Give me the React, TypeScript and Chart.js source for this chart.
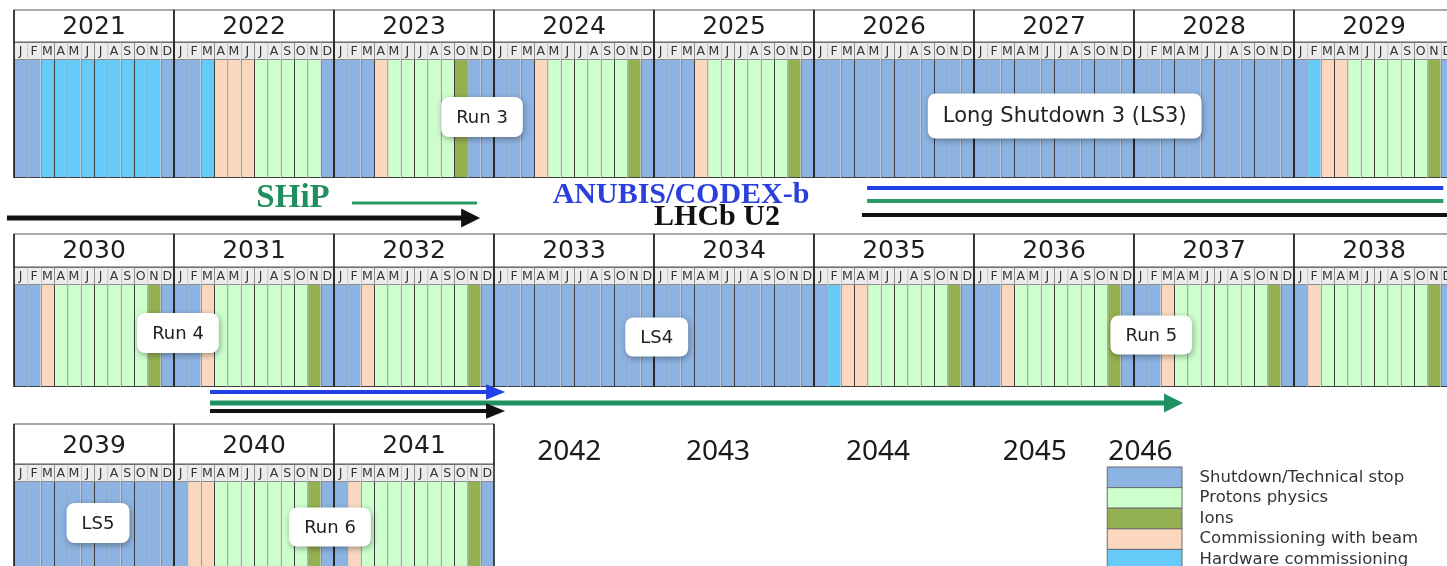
import React, { useEffect, useRef } from "react";
import { Chart, registerables } from "chart.js";

Chart.register(...registerables);

// ---------------- data ----------------
const ROW_START_YEARS = [2021, 2030, 2039];
const YEARS = [
  2021, 2022, 2023, 2024, 2025, 2026, 2027, 2028, 2029,
  2030, 2031, 2032, 2033, 2034, 2035, 2036, 2037, 2038,
  2039, 2040, 2041,
];
// one letter per month: S shutdown, P protons, I ions, C commissioning w/ beam, H hardware commissioning
const SCHEDULE = [
  "SSHHHHHHHHHS", // 2021
  "SSHCCCPPPPPS", // 2022
  "SSSCPPPPPISS", // 2023
  "SSSCPPPPPPIS", // 2024
  "SSSCPPPPPPIS", // 2025
  "SSSSSSSSSSSS", // 2026
  "SSSSSSSSSSSS", // 2027
  "SSSSSSSSSSSS", // 2028
  "SHCCPPPPPPIS", // 2029
  "SSCPPPPPPPIS", // 2030
  "SSCPPPPPPPIS", // 2031
  "SSCPPPPPPPIS", // 2032
  "SSSSSSSSSSSS", // 2033
  "SSSSSSSSSSSS", // 2034
  "SHCCPPPPPPIS", // 2035
  "SSCPPPPPPPIS", // 2036
  "SSCPPPPPPPIS", // 2037
  "SCPPPPPPPPIS", // 2038
  "SSSSSSSSSSSS", // 2039
  "SCCPPPPPPPIS", // 2040
  "SCPPPPPPPPIS", // 2041
];
const MONTH_LETTERS = ["J", "F", "M", "A", "M", "J", "J", "A", "S", "O", "N", "D"];
const PHASE_CODES = ["S", "P", "I", "C", "H"];
const PHASE_NAMES = [
  "Shutdown/Technical stop",
  "Protons physics",
  "Ions",
  "Commissioning with beam",
  "Hardware commissioning",
];
const PERIOD_LABELS = ["Run 3", "Long Shutdown 3 (LS3)", "Run 4", "LS4", "Run 5", "LS5", "Run 6"];
const PERIOD_DATES = [2023.925, 2027.567, 2031.025, 2034.017, 2037.108, 2039.525, 2040.975];
const EXPERIMENTS = ["SHiP", "ANUBIS/CODEX-b", "LHCb U2"];
const EXPERIMENT_DATES = [2022.744, 2025.169, 2025.394];
const TRACK_STARTS = [2020.956, 2023.113, 2026.332, 2026.332, 2026.3, 2031.225, 2031.225, 2031.225];
const TRACK_ENDS = [2023.807, 2023.894, 2029.933, 2029.933, 2030.2, 2032.963, 2037.2, 2032.963];
const FUTURE_YEARS = [2042, 2043, 2044, 2045, 2046];
const FUTURE_YEAR_DATES = [2042.47, 2043.4, 2044.4, 2045.38, 2046.04];

// ---------------- layout & style ----------------
const W = 1447;
const H = 566;
const X_MIN = -1.05;
const X_MAX = 107.475;
const PHASE_COLORS = ["#8db3e2", "#ccffcc", "#93b150", "#fbd8bd", "#66cbf8"];
const ROW_LAYOUT = [
  { headTop: 10, monthTop: 42, barTop: 60, barBottom: 178, yearY: 27 },
  { headTop: 234, monthTop: 267, barTop: 285, barBottom: 387, yearY: 251 },
  { headTop: 424, monthTop: 464, barTop: 482, barBottom: 640, yearY: 446 },
];
const PERIOD_Y = [117, 116, 333, 337, 335, 523, 527];
const PERIOD_FONT = [18, 21, 18, 18, 18, 18, 18];
const PERIOD_BOX_H = [40, 45, 40, 39, 39, 40, 39];
const TRACK_ROWS = [0, 0, 0, 0, 0, 1, 1, 1];
const TRACK_Y = [218, 203, 188, 201, 215, 392, 403, 411];
const TRACK_COLORS = ["#111111", "#2a9a64", "#2140e6", "#2a9a64", "#111111", "#2140e6", "#1f9160", "#111111"];
const TRACK_WIDTHS = [5, 3, 4, 4, 4, 4, 5, 4];
const TRACK_ARROWS = [true, false, false, false, false, true, true, true];
const EXPERIMENT_Y = [207, 203, 225];
const EXPERIMENT_COLORS = ["#1f8f60", "#2a3fdc", "#111111"];
const EXPERIMENT_FONT = [33, 30, 30];
const FUTURE_ROW = 2;
const FUTURE_Y = 452;
const LEGEND_ROW = 2;
const LEGEND_X0 = 2045.833;
const LEGEND_X1 = 2046.3;
const LEGEND_TEXT_X = 2046.41;
const LEGEND_TOP = 467;
const LEGEND_STEP = 20.6;

const rowOf = (year: number) => {
  let r = 0;
  ROW_START_YEARS.forEach((s, i) => {
    if (year >= s) r = i;
  });
  return r;
};
const monthsIn = (row: number, date: number) => (date - ROW_START_YEARS[row]) * 12;

function buildPhaseData(code: string) {
  const pts: { x: number; y: [number, number] }[] = [];
  YEARS.forEach((yr, yi) => {
    const row = rowOf(yr);
    const L = ROW_LAYOUT[row];
    SCHEDULE[yi].split("").forEach((c, m) => {
      if (c === code) pts.push({ x: monthsIn(row, yr) + m + 0.5, y: [L.barTop, L.barBottom] });
    });
  });
  return pts;
}

function buildMonthCells() {
  const pts: { x: number; y: [number, number] }[] = [];
  YEARS.forEach((yr) => {
    const row = rowOf(yr);
    const L = ROW_LAYOUT[row];
    for (let m = 0; m < 12; m++) pts.push({ x: monthsIn(row, yr) + m + 0.5, y: [L.monthTop, L.barTop] });
  });
  return pts;
}

const overlayPlugin = {
  id: "lhcOverlay",
  afterDatasetsDraw(chart: any) {
    const ctx: CanvasRenderingContext2D = chart.ctx;
    const xs = chart.scales.x;
    const ys = chart.scales.y;
    const px = (row: number, date: number) => xs.getPixelForValue(monthsIn(row, date));
    const py = (v: number) => ys.getPixelForValue(v);
    ctx.save();

    // year header boxes, month letters, year separators
    YEARS.forEach((yr) => {
      const row = rowOf(yr);
      const L = ROW_LAYOUT[row];
      const x0 = px(row, yr);
      const x1 = px(row, yr + 1);
      ctx.fillStyle = "#ffffff";
      ctx.fillRect(x0, py(L.headTop), x1 - x0, py(L.monthTop) - py(L.headTop));
      ctx.strokeStyle = "#555555";
      ctx.lineWidth = 1;
      ctx.strokeRect(x0, py(L.headTop), x1 - x0, py(L.monthTop) - py(L.headTop));
      ctx.fillStyle = "#1e1e1e";
      ctx.font = "25px 'DejaVu Sans'";
      ctx.textAlign = "center";
      ctx.textBaseline = "middle";
      ctx.fillText(String(yr), (x0 + x1) / 2, py(L.yearY));

      ctx.font = "12.5px 'DejaVu Sans'";
      ctx.fillStyle = "#333333";
      MONTH_LETTERS.forEach((ml, m) => {
        const cx = px(row, yr + (m + 0.5) / 12);
        ctx.fillText(ml, cx, py((L.monthTop + L.barTop) / 2) + 1, 11.5);
      });

      ctx.strokeStyle = "#262626";
      ctx.lineWidth = 1.6;
      [x0, x1].forEach((xx) => {
        ctx.beginPath();
        ctx.moveTo(xx, py(L.headTop));
        ctx.lineTo(xx, py(L.barBottom));
        ctx.stroke();
      });
    });

    // period labels
    PERIOD_LABELS.forEach((lab, i) => {
      const row = rowOf(Math.floor(PERIOD_DATES[i]));
      const cx = px(row, PERIOD_DATES[i]);
      const cy = py(PERIOD_Y[i]);
      ctx.font = `${PERIOD_FONT[i]}px 'DejaVu Sans'`;
      const tw = ctx.measureText(lab).width;
      const bw = tw + 30;
      const bh = PERIOD_BOX_H[i];
      ctx.save();
      ctx.shadowColor = "rgba(0,0,0,0.35)";
      ctx.shadowBlur = 6;
      ctx.shadowOffsetX = 1;
      ctx.shadowOffsetY = 2;
      ctx.fillStyle = "#ffffff";
      ctx.beginPath();
      (ctx as any).roundRect(cx - bw / 2, cy - bh / 2, bw, bh, 8);
      ctx.fill();
      ctx.restore();
      ctx.fillStyle = "#222222";
      ctx.textAlign = "center";
      ctx.textBaseline = "middle";
      ctx.fillText(lab, cx, cy + 1);
    });

    // arrow heads on track lines
    chart.data.datasets.forEach((ds: any, di: number) => {
      if (!ds.arrowHead) return;
      const meta = chart.getDatasetMeta(di);
      const pt = meta.data[meta.data.length - 1];
      const w = ds.borderWidth;
      const len = 17;
      const hh = w * 1.7 + 1;
      ctx.fillStyle = ds.borderColor;
      ctx.beginPath();
      ctx.moveTo(pt.x - 2, pt.y - hh);
      ctx.lineTo(pt.x + len, pt.y);
      ctx.lineTo(pt.x - 2, pt.y + hh);
      ctx.closePath();
      ctx.fill();
    });

    // experiment names
    EXPERIMENTS.forEach((name, i) => {
      ctx.font = `bold ${EXPERIMENT_FONT[i]}px 'Liberation Serif'`;
      ctx.fillStyle = EXPERIMENT_COLORS[i];
      ctx.textAlign = "center";
      ctx.textBaseline = "alphabetic";
      ctx.fillText(name, px(0, EXPERIMENT_DATES[i]), py(EXPERIMENT_Y[i]));
    });

    // future years
    FUTURE_YEARS.forEach((yr, i) => {
      ctx.font = "28px 'Noto Sans'";
      ctx.fillStyle = "#1a1a1a";
      ctx.textAlign = "center";
      ctx.textBaseline = "middle";
      ctx.fillText(String(yr), px(FUTURE_ROW, FUTURE_YEAR_DATES[i]), py(FUTURE_Y));
    });

    // legend
    const lx0 = px(LEGEND_ROW, LEGEND_X0);
    const lx1 = px(LEGEND_ROW, LEGEND_X1);
    const ltx = px(LEGEND_ROW, LEGEND_TEXT_X);
    PHASE_NAMES.forEach((name, i) => {
      const top = py(LEGEND_TOP + i * LEGEND_STEP);
      const bot = py(LEGEND_TOP + (i + 1) * LEGEND_STEP);
      ctx.fillStyle = PHASE_COLORS[i];
      ctx.fillRect(lx0, top, lx1 - lx0, bot - top);
      ctx.strokeStyle = "#6b6b6b";
      ctx.lineWidth = 1;
      ctx.strokeRect(lx0, top, lx1 - lx0, bot - top);
      ctx.font = "16.5px 'DejaVu Sans'";
      ctx.fillStyle = "#333333";
      ctx.textAlign = "left";
      ctx.textBaseline = "middle";
      ctx.fillText(name, ltx, (top + bot) / 2);
    });

    ctx.restore();
  },
};

export default function App() {
  const ref = useRef<HTMLCanvasElement>(null);
  useEffect(() => {
    const phaseSets = PHASE_CODES.map((code, i) => ({
      type: "bar" as const,
      label: PHASE_NAMES[i],
      data: buildPhaseData(code),
      backgroundColor: PHASE_COLORS[i],
      borderColor: "#3d3d3d",
      borderWidth: { top: 0, left: 1, bottom: 1, right: 0 },
      borderSkipped: false,
      grouped: false,
      barPercentage: 1,
      categoryPercentage: 1,
      inflateAmount: 0,
    }));
    const monthSet = {
      type: "bar" as const,
      label: "months",
      data: buildMonthCells(),
      backgroundColor: "#ececec",
      borderColor: "#8c8c8c",
      borderWidth: { top: 1, left: 1, bottom: 1, right: 0 },
      borderSkipped: false,
      grouped: false,
      barPercentage: 1,
      categoryPercentage: 1,
      inflateAmount: 0,
    };
    const trackSets = TRACK_STARTS.map((s, i) => ({
      type: "line" as const,
      label: "track" + i,
      data: [
        { x: monthsIn(TRACK_ROWS[i], s), y: TRACK_Y[i] },
        { x: monthsIn(TRACK_ROWS[i], TRACK_ENDS[i]), y: TRACK_Y[i] },
      ],
      borderColor: TRACK_COLORS[i],
      borderWidth: TRACK_WIDTHS[i],
      borderCapStyle: "butt",
      pointRadius: 0,
      fill: false,
      tension: 0,
      arrowHead: TRACK_ARROWS[i],
    }));

    const chart = new Chart(ref.current as HTMLCanvasElement, {
      type: "bar",
      data: { datasets: [...trackSets, monthSet, ...phaseSets] as any },
      options: {
        animation: false,
        responsive: true,
        maintainAspectRatio: false,
        layout: { padding: 0 },
        plugins: { legend: { display: false }, tooltip: { enabled: false } },
        scales: {
          x: { type: "linear", min: X_MIN, max: X_MAX, display: false, offset: false, bounds: "data" },
          y: { type: "linear", min: 0, max: H, reverse: true, display: false, offset: false },
        },
      },
      plugins: [overlayPlugin],
    });
    return () => chart.destroy();
  }, []);

  return (
    <div style={{ position: "absolute", left: 0, top: 0, width: W, height: H, background: "#ffffff", overflow: "hidden" }}>
      <canvas ref={ref} />
    </div>
  );
}
